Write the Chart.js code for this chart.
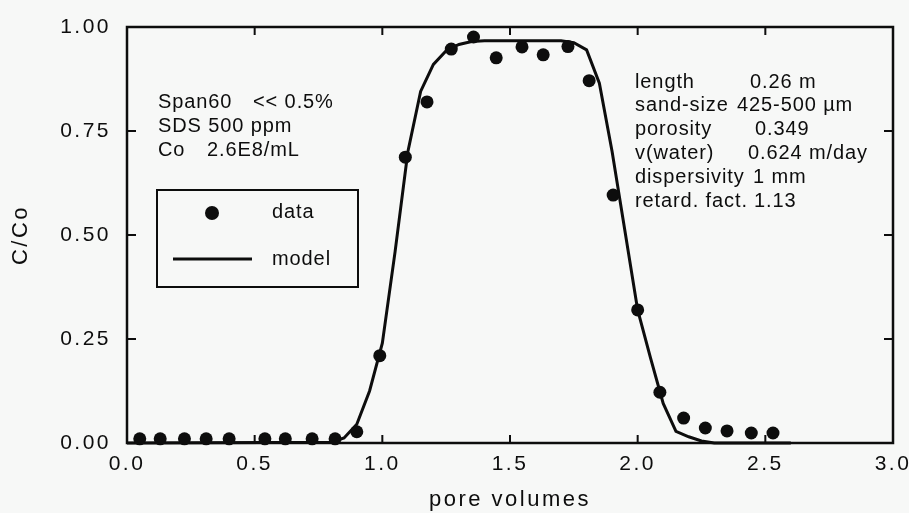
<!DOCTYPE html>
<html><head><meta charset="utf-8">
<script src="https://cdn.jsdelivr.net/npm/chart.js@4"></script>
<style>html,body{margin:0;padding:0;background:#f7f8f7;}#wrap{width:909px;height:513px;}</style>
</head><body><div id="wrap"><canvas id="c" width="909" height="513"></canvas></div>
<script>
// measured data (pore volumes vs C/Co)
const dataX = [0.05, 0.13, 0.225, 0.31, 0.40, 0.54, 0.62, 0.725, 0.815, 0.90, 0.99, 1.09, 1.175, 1.27, 1.357, 1.446, 1.547, 1.63, 1.727, 1.81, 1.904, 2.0, 2.087, 2.18, 2.265, 2.35, 2.445, 2.53];
const dataY = [0.01, 0.01, 0.01, 0.01, 0.01, 0.01, 0.01, 0.01, 0.01, 0.027, 0.21, 0.687, 0.82, 0.947, 0.976, 0.926, 0.952, 0.933, 0.953, 0.871, 0.596, 0.32, 0.122, 0.06, 0.036, 0.029, 0.024, 0.024];
// model curve
const modelX = [0, 0.80, 0.85, 0.90, 0.95, 1.00, 1.05, 1.10, 1.15, 1.20, 1.25, 1.30, 1.35, 1.40, 1.50, 1.60, 1.70, 1.75, 1.80, 1.85, 1.90, 1.95, 2.00, 2.05, 2.10, 2.15, 2.20, 2.25, 2.30, 2.60];
const modelY = [0, 0.002, 0.012, 0.045, 0.125, 0.24, 0.46, 0.70, 0.845, 0.91, 0.943, 0.958, 0.965, 0.967, 0.967, 0.967, 0.967, 0.962, 0.945, 0.865, 0.70, 0.51, 0.32, 0.205, 0.095, 0.028, 0.015, 0.005, 0, 0];
const xTicks = [0, 0.5, 1.0, 1.5, 2.0, 2.5, 3.0];
const yTicks = [0, 0.25, 0.5, 0.75, 1.0];
const seriesNames = ['data', 'model'];
const xTitle = 'pore volumes';
const yTitle = 'C/Co';
const leftNotes = [['Span60', '<< 0.5%'], ['SDS 500 ppm', ''], ['Co', '2.6E8/mL']];
const rightNotes = [['length', '0.26 m'], ['sand-size', '425-500 µm'], ['porosity', '0.349'], ['v(water)', '0.624 m/day'], ['dispersivity', '1 mm'], ['retard. fact.', '1.13']];

const INK = '#0d0d0d';
const FAM = '"Liberation Sans", Arial, sans-serif';
const LS = '2.5px';

const spacing = {
  id: 'spacing',
  beforeLayout(c) { c.ctx.letterSpacing = LS; },
  beforeDraw(c) { c.ctx.letterSpacing = LS; }
};

const frame = {
  id: 'frame',
  beforeDatasetsDraw(chart) {
    const {ctx, chartArea: a, scales: {x, y}} = chart;
    ctx.save();
    ctx.strokeStyle = INK;
    ctx.lineWidth = 2.5;
    ctx.strokeRect(a.left, a.top, a.right - a.left, a.bottom - a.top);
    ctx.lineWidth = 2;
    ctx.beginPath();
    xTicks.forEach(v => {
      const p = x.getPixelForValue(v);
      ctx.moveTo(p, a.bottom); ctx.lineTo(p, a.bottom - 8);
      ctx.moveTo(p, a.top); ctx.lineTo(p, a.top + 8);
    });
    yTicks.forEach(v => {
      const p = y.getPixelForValue(v);
      ctx.moveTo(a.left, p); ctx.lineTo(a.left + 9, p);
      ctx.moveTo(a.right, p); ctx.lineTo(a.right - 9, p);
    });
    ctx.stroke();
    ctx.restore();
  }
};

const notes = {
  id: 'notes',
  afterDraw(chart) {
    const {ctx} = chart;
    ctx.save();
    ctx.letterSpacing = '0.9px';
    ctx.fillStyle = INK;
    ctx.font = '20px ' + FAM;
    ctx.textBaseline = 'middle';
    ctx.textAlign = 'left';
    leftNotes.forEach((r, i) => {
      const yy = 102 + i * 24;
      ctx.fillText(r[0], 158, yy);
      if (r[1]) ctx.fillText(r[1], i === 2 ? 207 : 253, yy);
    });
    const vx = [750, 737, 755, 748, 753, 754];
    rightNotes.forEach((r, i) => {
      const yy = 82 + i * 23.8;
      ctx.fillText(r[0], 635, yy);
      ctx.fillText(r[1], vx[i], yy);
    });
    // legend box
    ctx.lineWidth = 2;
    ctx.strokeStyle = INK;
    ctx.strokeRect(157, 190, 201, 97);
    ctx.beginPath();
    ctx.arc(212, 213, 7, 0, Math.PI * 2);
    ctx.fill();
    ctx.lineWidth = 3;
    ctx.beginPath();
    ctx.moveTo(173, 259); ctx.lineTo(252, 259);
    ctx.stroke();
    ctx.fillText(seriesNames[0], 272, 212);
    ctx.fillText(seriesNames[1], 272, 259);
    ctx.restore();
  }
};

new Chart(document.getElementById('c'), {
  type: 'scatter',
  data: {
    datasets: [
      {
        label: seriesNames[0],
        data: dataX.map((v, i) => ({x: v, y: dataY[i]})),
        pointRadius: 6.5,
        pointBackgroundColor: INK,
        pointBorderWidth: 0,
        showLine: false,
        clip: false,
        order: 0
      },
      {
        label: seriesNames[1],
        type: 'line',
        data: modelX.map((v, i) => ({x: v, y: modelY[i]})),
        borderColor: INK,
        borderWidth: 3,
        pointRadius: 0,
        tension: 0,
        fill: false,
        clip: false,
        order: 1
      }
    ]
  },
  options: {
    responsive: false,
    animation: false,
    devicePixelRatio: 1,
    layout: {padding: {top: 27, right: 16, left: 0, bottom: 0}},
    plugins: {legend: {display: false}, tooltip: {enabled: false}},
    scales: {
      x: {
        type: 'linear', min: 0, max: 3,
        grid: {display: false, drawTicks: false},
        border: {display: false},
        afterBuildTicks: s => { s.ticks = xTicks.map(v => ({value: v})); },
        afterFit: s => { s.height = 70; s.paddingLeft = 0; s.paddingRight = 0; },
        ticks: {color: INK, font: {family: FAM, size: 21}, padding: 9, maxRotation: 0,
          callback: v => Number(v).toFixed(1)},
        title: {display: true, text: xTitle, color: INK, font: {family: FAM, size: 22}, padding: {top: 0, bottom: 0}}
      },
      y: {
        type: 'linear', min: 0, max: 1,
        grid: {display: false, drawTicks: false},
        border: {display: false},
        afterBuildTicks: s => { s.ticks = yTicks.map(v => ({value: v})); },
        afterFit: s => { s.width = 127; s.paddingTop = 0; s.paddingBottom = 0; },
        ticks: {color: INK, font: {family: FAM, size: 21}, padding: 16,
          callback: v => Number(v).toFixed(2)},
        title: {display: true, text: yTitle, color: INK, font: {family: FAM, size: 22}, padding: {top: 8, bottom: 0}}
      }
    }
  },
  plugins: [spacing, frame, notes]
});
</script>
</body></html>
